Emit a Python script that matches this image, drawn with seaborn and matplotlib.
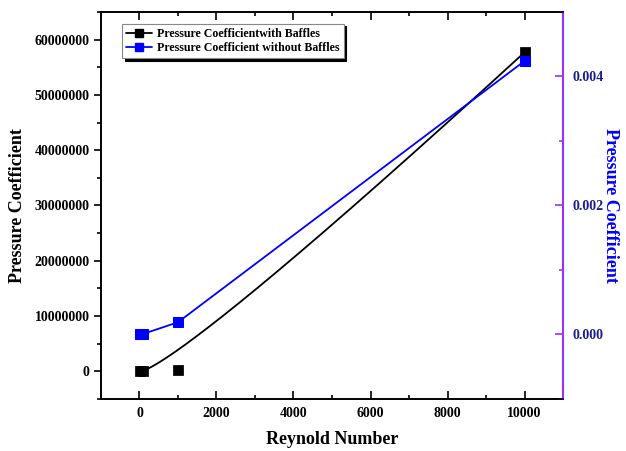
import numpy as np
import pandas as pd
import matplotlib
matplotlib.use("Agg")
import matplotlib.pyplot as plt
from matplotlib.ticker import MultipleLocator, FixedLocator
from matplotlib.lines import Line2D
import seaborn as sns

# ---- data ----
reynolds = [10, 100, 1000, 10000]
cp_with_baffles = [0.0, 0.0, 250000.0, 57700000.0]
cp_without_baffles = [0.0, 0.00001, 0.00019, 0.00424]

x_ticks = [0, 2000, 4000, 6000, 8000, 10000]
left_ticks = [0, 10000000, 20000000, 30000000, 40000000, 50000000, 60000000]
right_ticks = [0.000, 0.002, 0.004]

label_with = "Pressure Coefficientwith Baffles"
label_without = "Pressure Coefficient without Baffles"
x_label = "Reynold Number"
y_label = "Pressure Coefficient"

sns.set_theme(style="white")
plt.rcParams["font.family"] = ["Liberation Serif", "DejaVu Serif"]
plt.rcParams["font.weight"] = "bold"
plt.rcParams["text.color"] = "black"
plt.rcParams["axes.labelcolor"] = "black"
plt.rcParams["xtick.color"] = "black"
plt.rcParams["ytick.color"] = "black"

df_with = pd.DataFrame({"Re": reynolds, "Cp": cp_with_baffles})
df_without = pd.DataFrame({"Re": reynolds, "Cp": cp_without_baffles})

# B-spline (Bezier) smoothing of the "with baffles" series, as in the original
P = np.column_stack([reynolds, cp_with_baffles]).astype(float)
t = np.linspace(0, 1, 200)[:, None]
curve = ((1 - t) ** 3) * P[0] + 3 * ((1 - t) ** 2) * t * P[1] + 3 * (1 - t) * t ** 2 * P[2] + t ** 3 * P[3]
df_curve = pd.DataFrame({"Re": curve[:, 0], "Cp": curve[:, 1]})

fig = plt.figure(figsize=(6.26, 4.51), dpi=100)
ax = fig.add_axes([0.1613, 0.1153, 0.7381, 0.8581])
ax2 = ax.twinx()

sns.lineplot(data=df_curve, x="Re", y="Cp", sort=False, color="black", lw=1.3, ax=ax, legend=False)
sns.scatterplot(data=df_with, x="Re", y="Cp", marker="s", s=45, color="black", edgecolor="black", ax=ax, legend=False, zorder=5)

sns.lineplot(data=df_without, x="Re", y="Cp", color="#0000FF", lw=1.3, marker="s", markersize=7,
             markeredgecolor="#0000FF", ax=ax2, legend=False)

ax.set_xlim(-1000, 11000)
ax.set_ylim(-5000000, 65000000)
ax2.set_ylim(-0.001, 0.005)

ax.xaxis.set_major_locator(FixedLocator(x_ticks))
ax.xaxis.set_minor_locator(MultipleLocator(1000))
ax.yaxis.set_major_locator(FixedLocator(left_ticks))
ax.yaxis.set_minor_locator(MultipleLocator(5000000))
ax2.yaxis.set_major_locator(FixedLocator(right_ticks))
ax2.yaxis.set_minor_locator(MultipleLocator(0.001))

ax.set_xticklabels([str(v) for v in x_ticks], fontsize=10, fontweight="bold", color="black")
ax.set_yticklabels([str(v) for v in left_ticks], fontsize=10, fontweight="bold", color="black")
ax2.set_yticklabels([f"{v:.3f}" for v in right_ticks], fontsize=10, fontweight="bold", color="#1c1c8c")

ax.tick_params(axis="x", which="both", direction="in", top=True, bottom=True, colors="black")
ax.tick_params(axis="x", which="major", length=6, width=1.2, pad=6)
ax.tick_params(axis="x", which="minor", length=3, width=1.2)
ax.tick_params(axis="y", which="both", direction="out", left=True, right=False, colors="black")
ax.tick_params(axis="y", which="major", length=5, width=1.2, pad=3)
ax.tick_params(axis="y", which="minor", length=3, width=1.2)
ax2.tick_params(axis="y", which="both", direction="in", right=True, color="#9B30FF")
ax2.tick_params(axis="y", which="major", length=6, width=1.2, pad=7, labelcolor="#1c1c8c")
ax2.tick_params(axis="y", which="minor", length=3, width=1.2)

for s in ["left", "bottom", "top"]:
    ax.spines[s].set_color("black")
    ax.spines[s].set_linewidth(1.2)
    ax2.spines[s].set_color("black")
    ax2.spines[s].set_linewidth(1.2)
ax.spines["right"].set_visible(False)
ax2.spines["right"].set_color("#9B30FF")
ax2.spines["right"].set_linewidth(1.5)

ax.set_xlabel(x_label, fontsize=13, fontweight="bold", labelpad=8, color="black")
ax.set_ylabel(y_label, fontsize=13, fontweight="bold", labelpad=6, color="black")
ax2.set_ylabel(y_label, fontsize=13, fontweight="bold", color="#0000FF", rotation=270, labelpad=10,
               va="center")
ax2.yaxis.set_label_coords(1.102, 0.5)

handles = [
    Line2D([], [], color="black", lw=1.3, marker="s", markersize=5.5),
    Line2D([], [], color="#0000FF", lw=1.3, marker="s", markersize=5.5),
]
leg = ax2.legend(handles, [label_with, label_without], loc="upper left", bbox_to_anchor=(0.045, 0.97),
                 prop={"size": 8.6, "weight": "bold"}, frameon=True, fancybox=False,
                 shadow={"color": "black", "alpha": 1.0}, handlelength=2.2, borderpad=0.35,
                 labelspacing=0.2, handletextpad=0.4, borderaxespad=0)
leg.get_frame().set_edgecolor("#888888")
leg.get_frame().set_linewidth(0.8)
for txt in leg.get_texts():
    txt.set_color("black")

fig.savefig("out.png", dpi=100)
